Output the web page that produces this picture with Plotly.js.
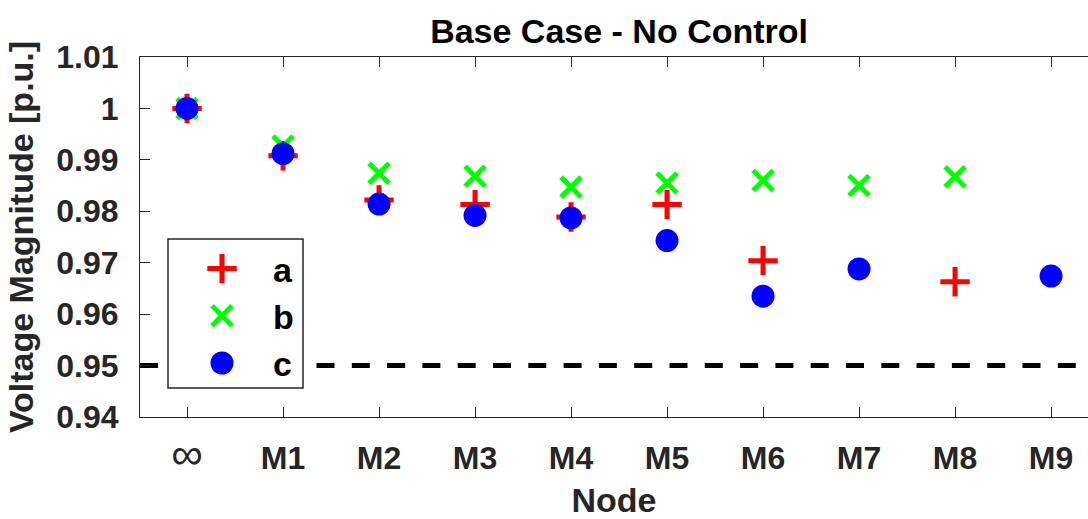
<!DOCTYPE html>
<html>
<head>
<meta charset="utf-8">
<script src="https://cdn.plot.ly/plotly-3.0.1.min.js"></script>
<style>
  html, body { margin: 0; padding: 0; background: #ffffff; }
  #chart { width: 1088px; height: 519px; }
</style>
</head>
<body>
<div id="chart"></div>
<script>
// Bus voltage magnitudes per phase along the feeder
const nodes = ['∞', 'M1', 'M2', 'M3', 'M4', 'M5', 'M6', 'M7', 'M8', 'M9'];
const nodeLabels = ['<span style="font-weight:normal;font-size:44px">∞</span>',
                    'M1', 'M2', 'M3', 'M4', 'M5', 'M6', 'M7', 'M8', 'M9'];

// phase a: present at ∞, M1..M6 and M8
const nodesA = ['∞', 'M1', 'M2', 'M3', 'M4', 'M5', 'M6', 'M8'];
const phaseA = [1.0000, 0.9908, 0.9822, 0.9813, 0.9789, 0.9813, 0.9704, 0.9663];

// phase b: present at ∞ and M1..M8
const nodesB = ['∞', 'M1', 'M2', 'M3', 'M4', 'M5', 'M6', 'M7', 'M8'];
const phaseB = [1.0000, 0.9927, 0.9874, 0.9868, 0.9847, 0.9855, 0.9860, 0.9850, 0.9867];

// phase c: present at ∞, M1..M7 and M9
const nodesC = ['∞', 'M1', 'M2', 'M3', 'M4', 'M5', 'M6', 'M7', 'M9'];
const phaseC = [1.0000, 0.9912, 0.9814, 0.9792, 0.9787, 0.9743, 0.9635, 0.9688, 0.9674];

const limitV = 0.95;

const yTickVals = [0.94, 0.95, 0.96, 0.97, 0.98, 0.99, 1.00, 1.01];
const yTickText = ['0.94', '0.95', '0.96', '0.97', '0.98', '0.99', '1', '1.01'];

const FONT = 'Liberation Sans, Arial, Helvetica, sans-serif';
const AXCOL = '#262626';

const traces = [
  {
    x: nodesA, y: phaseA, name: 'a', type: 'scatter', mode: 'markers',
    legendgroup: 'a',
    marker: { symbol: 'cross-thin', size: 21, color: '#ff0000',
              line: { color: '#ff0000', width: 5 } },
    cliponaxis: false
  },
  {
    x: nodesB, y: phaseB, name: 'b', type: 'scatter', mode: 'markers',
    legendgroup: 'b',
    marker: { symbol: 'x-thin', size: 20, color: '#00ff00',
              line: { color: '#00ff00', width: 5 } },
    cliponaxis: false
  },
  {
    x: nodesC, y: phaseC, name: 'c', type: 'scatter', mode: 'markers',
    legendgroup: 'c',
    marker: { symbol: 'circle', size: 23, color: '#0000ff',
              line: { width: 0 } },
    cliponaxis: false
  }
];

const layout = {
  width: 1088,
  height: 519,
  margin: { l: 140, r: 0, t: 57, b: 102 },
  paper_bgcolor: '#ffffff',
  plot_bgcolor: '#ffffff',
  showlegend: true,
  title: {
    text: '<b>Base Case - No Control</b>',
    font: { family: FONT, size: 34, color: '#000000' },
    x: 0.569, xref: 'container', xanchor: 'center',
    y: 1 - 31 / 519, yref: 'container', yanchor: 'middle'
  },
  xaxis: {
    type: 'category',
    categoryorder: 'array',
    categoryarray: nodes,
    tickmode: 'array',
    tickvals: nodes,
    ticktext: nodeLabels,
    range: [-0.49, 9.385],
    showgrid: false,
    zeroline: false,
    showline: true,
    linecolor: AXCOL,
    linewidth: 1,
    mirror: 'ticks',
    ticks: 'inside',
    ticklen: 10,
    tickwidth: 1,
    tickcolor: AXCOL,
    ticklabelstandoff: 13,
    tickfont: { family: FONT, size: 32, color: AXCOL, weight: 'bold' },
    title: {
      text: '<b>Node</b>',
      font: { family: FONT, size: 34, color: AXCOL },
      standoff: 22
    }
  },
  yaxis: {
    range: [0.94, 1.01],
    tickmode: 'array',
    tickvals: yTickVals,
    ticktext: yTickText,
    showgrid: false,
    zeroline: false,
    showline: true,
    linecolor: AXCOL,
    linewidth: 1,
    ticks: 'inside',
    ticklen: 10,
    tickwidth: 1,
    tickcolor: AXCOL,
    ticklabelstandoff: 14,
    tickfont: { family: FONT, size: 32, color: AXCOL, weight: 'bold' },
    title: {
      text: '<b>Voltage Magnitude [p.u.]</b>',
      font: { family: FONT, size: 34, color: AXCOL },
      standoff: 12
    }
  },
  legend: {
    x: (171 - 140) / 948, xanchor: 'left',
    y: (417 - 240) / 360, yanchor: 'top',
    bgcolor: 'rgba(0,0,0,0)',
    borderwidth: 0,
    itemwidth: 92,
    tracegroupgap: 0,
    traceorder: 'grouped',
    itemclick: false,
    font: { family: FONT, size: 34, color: '#000000', weight: 'bold' }
  },
  shapes: [
    // lower voltage limit
    {
      type: 'line', xref: 'paper', yref: 'y',
      x0: 0, x1: 1, y0: limitV, y1: limitV,
      line: { color: '#000000', width: 5, dash: '18px,17.3px' },
      layer: 'below'
    },
    // legend frame
    {
      type: 'rect', xref: 'paper', yref: 'paper',
      x0: (168 - 140) / 948, x1: (303 - 140) / 948,
      y0: (417 - 388) / 360, y1: (417 - 239) / 360,
      fillcolor: '#ffffff',
      line: { color: AXCOL, width: 1.5 },
      layer: 'above'
    }
  ]
};

Plotly.newPlot('chart', traces, layout, { displayModeBar: false, staticPlot: true }).then(function (gd) {
  // legend symbols are capped in size; scale them up to the plotted marker size
  const pts = gd.querySelectorAll('.legend .traces');
  pts.forEach(function (tr, i) {
    const size = traces[i].marker.size;
    const k = size / Math.min(size, 16);
    tr.querySelectorAll('.legendpoints path').forEach(function (p) {
      const t = p.getAttribute('transform') || '';
      p.setAttribute('transform', t + ' scale(' + k + ')');
      p.style.vectorEffect = 'non-scaling-stroke';
    });
  });
});
</script>
</body>
</html>
